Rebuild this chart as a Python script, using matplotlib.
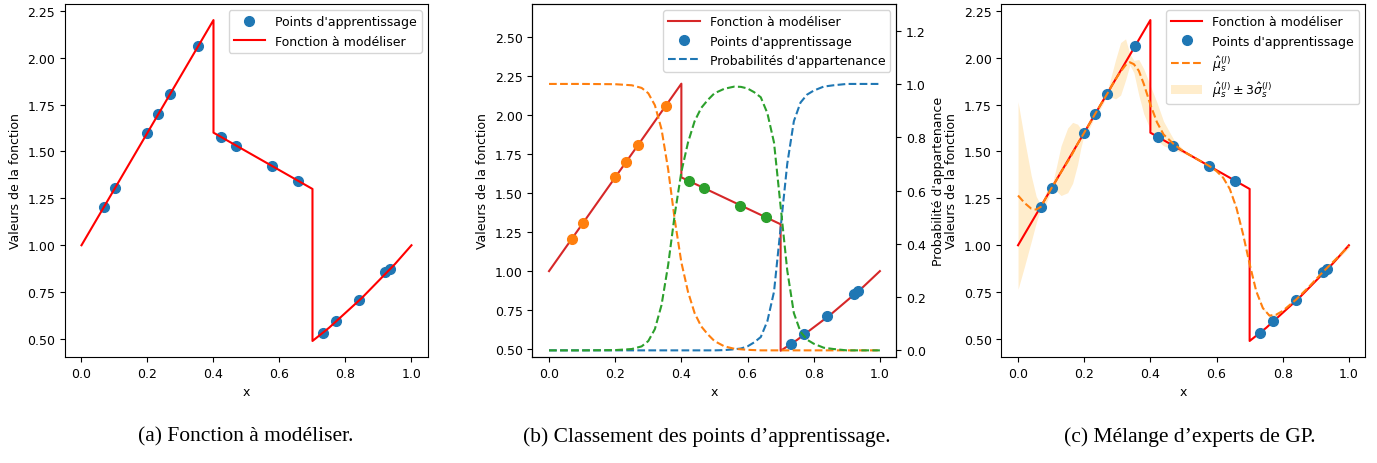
import matplotlib
matplotlib.use("Agg")
import matplotlib.pyplot as plt
from matplotlib.lines import Line2D
from matplotlib.patches import Patch

plt.rcParams['font.family'] = ['DejaVu Sans']
plt.rcParams['font.size'] = 9
plt.rcParams['legend.handlelength'] = 2.5

# Function to model (piecewise)
x_func = [0.0, 0.4, 0.4, 0.7, 0.7, 0.75, 0.8, 0.85, 0.9, 0.95, 1.0]
y_func = [1.0, 2.2, 1.6, 1.3, 0.49, 0.56, 0.64, 0.72, 0.81, 0.90, 1.0]

# Training points and their cluster (0: orange, 1: green, 2: blue)
x_train = [0.069, 0.103, 0.199, 0.233, 0.269, 0.353, 0.423, 0.468, 0.577, 0.656,
           0.731, 0.770, 0.840, 0.921, 0.934]
y_train = [1.205, 1.305, 1.60, 1.70, 1.805, 2.06, 1.575, 1.53, 1.42, 1.345,
           0.535, 0.595, 0.71, 0.855, 0.875]
cluster = [0, 0, 0, 0, 0, 0, 1, 1, 1, 1, 2, 2, 2, 2, 2]

# Membership probabilities
x_prob = [0.0, 0.1, 0.2, 0.25, 0.28, 0.30, 0.32, 0.34, 0.36, 0.38, 0.40, 0.42,
          0.44, 0.46, 0.48, 0.50, 0.53, 0.56, 0.58, 0.60, 0.62, 0.64, 0.66, 0.68, 0.70,
          0.72, 0.74, 0.76, 0.78, 0.80, 0.83, 0.86, 0.90, 1.0]
p_orange = [1.0, 1.0, 0.999, 0.995, 0.985, 0.965, 0.92, 0.83, 0.68, 0.49, 0.33, 0.22,
            0.14, 0.09, 0.06, 0.035, 0.015, 0.006, 0.004, 0.002, 0.001, 0.0, 0.0, 0.0, 0.0,
            0.0, 0.0, 0.0, 0.0, 0.0, 0.0, 0.0, 0.0, 0.0]
p_green = [0.0, 0.0, 0.001, 0.005, 0.015, 0.035, 0.08, 0.17, 0.32, 0.51, 0.67, 0.78,
           0.86, 0.91, 0.94, 0.965, 0.982, 0.99, 0.989, 0.983, 0.969, 0.95, 0.89, 0.78, 0.54,
           0.30, 0.14, 0.07, 0.04, 0.025, 0.01, 0.005, 0.0, 0.0]
p_blue = [0.0, 0.0, 0.0, 0.0, 0.0, 0.0, 0.0, 0.0, 0.0, 0.0, 0.0, 0.0,
          0.0, 0.0, 0.0, 0.0, 0.001, 0.004, 0.007, 0.015, 0.03, 0.05, 0.11, 0.22, 0.46,
          0.70, 0.86, 0.93, 0.96, 0.975, 0.99, 0.995, 1.0, 1.0]

# GP mixture prediction
x_gp = [0.0, 0.02, 0.04, 0.055, 0.069, 0.085, 0.103, 0.115, 0.13, 0.15, 0.165, 0.18,
        0.19, 0.2, 0.215, 0.233, 0.25, 0.269, 0.28, 0.295, 0.31, 0.325, 0.338, 0.35,
        0.365, 0.38, 0.40, 0.42, 0.44, 0.47, 0.5, 0.53, 0.56, 0.58, 0.6, 0.62, 0.64,
        0.66, 0.68, 0.70, 0.72, 0.74, 0.76, 0.78, 0.80, 0.84, 0.88, 0.92, 0.96, 1.0]
mu_gp = [1.265, 1.225, 1.195, 1.19, 1.205, 1.255, 1.31, 1.345, 1.39, 1.445, 1.49, 1.54,
         1.57, 1.60, 1.645, 1.70, 1.75, 1.805, 1.84, 1.885, 1.925, 1.96, 1.975, 1.965,
         1.93, 1.86, 1.75, 1.655, 1.59, 1.54, 1.50, 1.47, 1.44, 1.42, 1.395, 1.36, 1.30,
         1.20, 1.06, 0.90, 0.755, 0.665, 0.625, 0.63, 0.65, 0.71, 0.78, 0.855, 0.925, 0.995]
upper_gp = [1.765, 1.56, 1.37, 1.26, 1.215, 1.285, 1.32, 1.41, 1.53, 1.625, 1.655, 1.645,
            1.62, 1.61, 1.67, 1.71, 1.77, 1.815, 1.89, 1.99, 2.08, 2.10, 2.02, 1.985,
            1.99, 1.94, 1.85, 1.76, 1.66, 1.565, 1.51, 1.475, 1.445, 1.425, 1.40, 1.365, 1.305,
            1.205, 1.065, 0.905, 0.76, 0.67, 0.63, 0.635, 0.655, 0.715, 0.785, 0.86, 0.935, 1.005]
lower_gp = [0.765, 0.89, 1.02, 1.12, 1.195, 1.225, 1.30, 1.29, 1.265, 1.28, 1.33, 1.43,
            1.52, 1.59, 1.62, 1.69, 1.73, 1.795, 1.79, 1.78, 1.80, 1.88, 1.96, 1.92,
            1.80, 1.70, 1.615, 1.56, 1.53, 1.51, 1.49, 1.465, 1.435, 1.415, 1.39, 1.355, 1.295,
            1.195, 1.055, 0.895, 0.75, 0.66, 0.62, 0.625, 0.645, 0.705, 0.775, 0.85, 0.915, 0.985]

cluster_colors = ['tab:orange', 'tab:green', 'tab:blue']

fig = plt.figure(figsize=(13.77, 4.64), dpi=100)
ax_a = fig.add_axes([0.0472, 0.2284, 0.2636, 0.7608])
ax_b = fig.add_axes([0.3867, 0.2284, 0.2643, 0.7608])
ax_c = fig.add_axes([0.7273, 0.2284, 0.2643, 0.7608])

# (a) function and training points
ax_a.plot(x_train, y_train, 'o', color='tab:blue', markersize=7, label="Points d'apprentissage")
ax_a.plot(x_func, y_func, color='red', linewidth=1.5, label='Fonction à modéliser')
ax_a.set_xlabel('x')
ax_a.set_ylabel('Valeurs de la fonction')
ax_a.set_yticks([0.5, 0.75, 1.0, 1.25, 1.5, 1.75, 2.0, 2.25])
ax_a.legend(loc='upper right')

# (b) clustering of training points
ax_b.plot(x_func, y_func, color='tab:red', linewidth=1.5)
for k in range(3):
    xs = [x for x, c in zip(x_train, cluster) if c == k]
    ys = [y for y, c in zip(y_train, cluster) if c == k]
    ax_b.plot(xs, ys, 'o', color=cluster_colors[k], markersize=7)
ax_b.set_xlabel('x')
ax_b.set_ylabel('Valeurs de la fonction')
ax_b.set_ylim(0.45, 2.71)
ax_b.set_yticks([0.5, 0.75, 1.0, 1.25, 1.5, 1.75, 2.0, 2.25, 2.5])

ax_b2 = ax_b.twinx()
ax_b2.plot(x_prob, p_blue, '--', color='tab:blue', linewidth=1.5)
ax_b2.plot(x_prob, p_orange, '--', color='tab:orange', linewidth=1.5)
ax_b2.plot(x_prob, p_green, '--', color='tab:green', linewidth=1.5)
ax_b2.set_ylim(-0.025, 1.3)
ax_b2.set_yticks([0.0, 0.2, 0.4, 0.6, 0.8, 1.0, 1.2])
ax_b2.set_ylabel("Probabilité d'appartenance")
handles = [Line2D([], [], color='tab:red', linewidth=1.5),
           Line2D([], [], marker='o', color='tab:blue', linestyle='none', markersize=7),
           Line2D([], [], color='tab:blue', linestyle='--', linewidth=1.5)]
ax_b2.legend(handles, ['Fonction à modéliser', "Points d'apprentissage",
                       "Probabilités d'appartenance"], loc='upper right')

# (c) mixture of GP experts
ax_c.fill_between(x_gp, lower_gp, upper_gp, color='orange', alpha=0.2, linewidth=0)
ax_c.plot(x_func, y_func, color='red', linewidth=1.5)
ax_c.plot(x_train, y_train, 'o', color='tab:blue', markersize=7)
ax_c.plot(x_gp, mu_gp, '--', color='tab:orange', linewidth=1.5)
ax_c.set_xlabel('x')
ax_c.set_ylabel('Valeurs de la fonction')
ax_c.set_yticks([0.5, 0.75, 1.0, 1.25, 1.5, 1.75, 2.0, 2.25])
handles = [Line2D([], [], color='red', linewidth=1.5),
           Line2D([], [], marker='o', color='tab:blue', linestyle='none', markersize=7),
           Line2D([], [], color='tab:orange', linestyle='--', linewidth=1.5),
           Patch(facecolor='orange', alpha=0.2, edgecolor='none')]
ax_c.legend(handles, ['Fonction à modéliser', "Points d'apprentissage",
                      r'$\hat{\mu}_s^{(l)}$', r'$\hat{\mu}_s^{(l)} \pm 3\hat{\sigma}_s^{(l)}$'],
            loc='upper right')

for ax in (ax_a, ax_b, ax_c):
    ax.set_xticks([0.0, 0.2, 0.4, 0.6, 0.8, 1.0])

# Sub-captions
cap_font = dict(family='Liberation Serif', fontsize=15.5, ha='center', va='center')
fig.text(246 / 1377, 1 - 437 / 464, '(a) Fonction à modéliser.', **cap_font)
fig.text(707 / 1377, 1 - 437 / 464, '(b) Classement des points d\u2019apprentissage.', **cap_font)
fig.text(1190 / 1377, 1 - 437 / 464, '(c) Mélange d\u2019experts de GP.', **cap_font)

fig.savefig('out.png', dpi=100)
